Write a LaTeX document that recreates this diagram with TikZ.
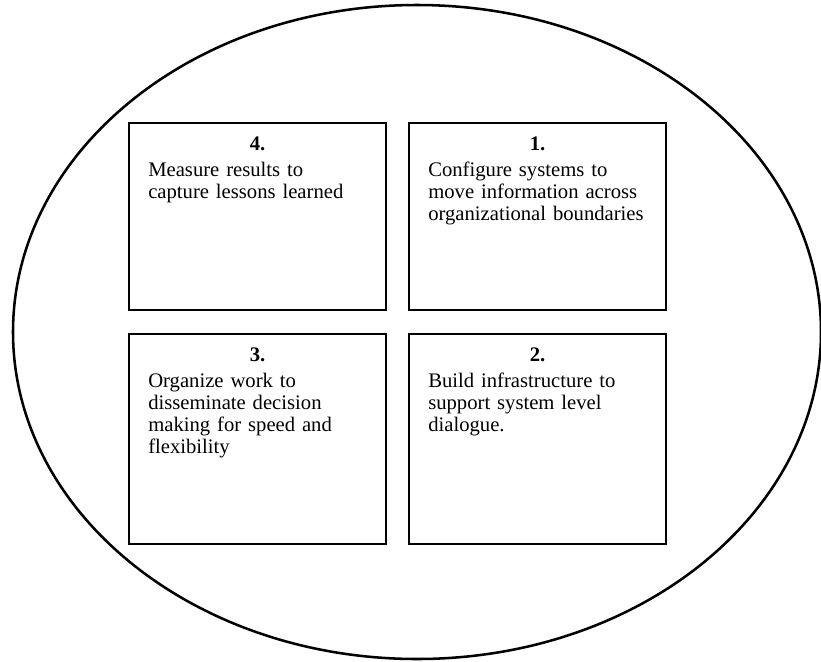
\documentclass[tikz,border=0pt]{standalone}
\usepackage{fontspec}
\setmainfont{Liberation Serif}
\usetikzlibrary{positioning}

\begin{document}
\begin{tikzpicture}[x=0.75pt, y=-0.75pt, node distance = 166.9pt and 210pt, on grid,
	box/.style={rectangle, draw=black, line width=1.5pt, minimum width=192.75pt},
	num/.style={font=\fontsize{15.5pt}{16.5pt}\selectfont\bfseries, anchor=base, inner sep=0pt},
	body/.style={font=\fontsize{15.5pt}{16.5pt}\selectfont, text width=170pt, align=left, anchor=base west, inner sep=0pt}]
			\useasboundingbox (0,0) rectangle (821,661);
			\draw [line width=1.9pt] (417,332) ellipse [x radius=404, y radius=327];
			\node [box, minimum height=140.25pt] (B4) at (257.5,216.5) {};
			\node [box, minimum height=140.25pt] (B1) [right =of B4] {};
			\node [box, minimum height=157.5pt] (B3) [below =of B4] {};
			\node [box, minimum height=157.5pt] (B2) [right =of B3] {};
			\node [num] (N4) at ([yshift=-21.4pt]B4.north) {4.};
			\node [num] (N1) at ([yshift=-21.4pt]B1.north) {1.};
			\node [num] (N3) at ([yshift=-21.4pt]B3.north) {3.};
			\node [num] (N2) at ([yshift=-21.4pt]B2.north) {2.};
			\node [body] (T4) at ([xshift=15pt, yshift=-40.9pt]B4.north west) {Measure results to\\capture lessons learned};
			\node [body] (T1) at ([xshift=15pt, yshift=-40.9pt]B1.north west) {Configure systems to\\move information across\\organizational boundaries};
			\node [body] (T3) at ([xshift=15pt, yshift=-40.9pt]B3.north west) {Organize work to\\disseminate decision\\making for speed and\\flexibility};
			\node [body] (T2) at ([xshift=15pt, yshift=-40.9pt]B2.north west) {Build infrastructure to\\support system level\\dialogue.};
		\end{tikzpicture}
\end{document}
